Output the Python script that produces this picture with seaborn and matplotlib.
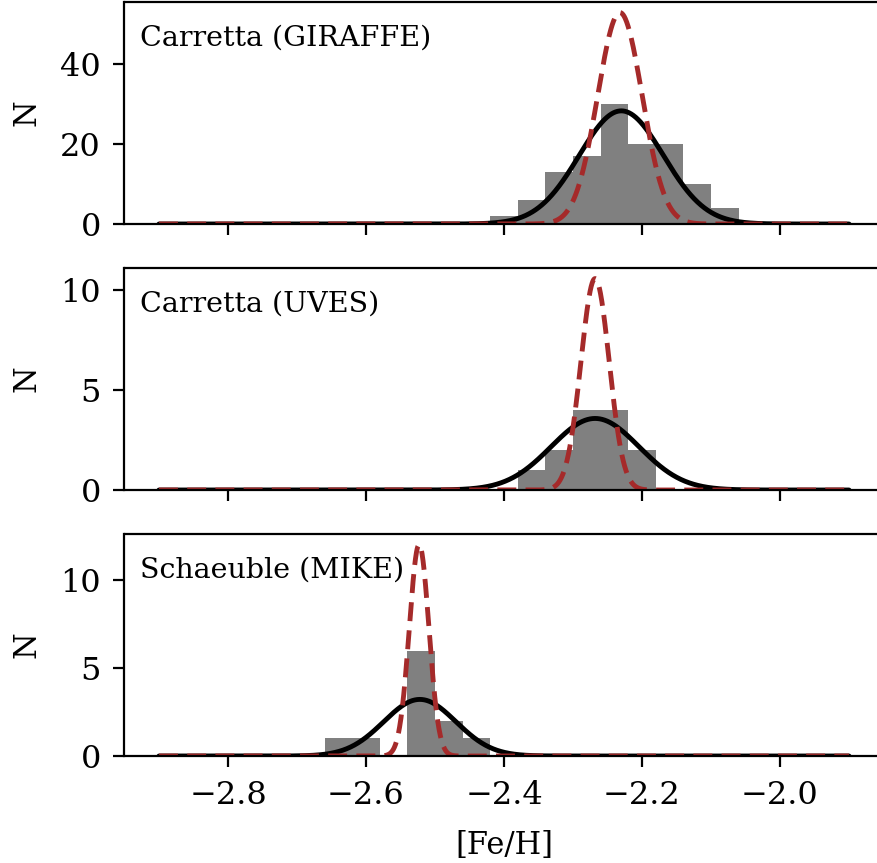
import numpy as np
import pandas as pd
import matplotlib
matplotlib.use("Agg")
import matplotlib.pyplot as plt
import seaborn as sns

# ---- data ----
bin_edges = [-2.42, -2.38, -2.34, -2.30, -2.26, -2.22, -2.18, -2.14, -2.10, -2.06]

giraffe_bins = [-2.40, -2.36, -2.32, -2.28, -2.24, -2.20, -2.16, -2.12, -2.08]
giraffe_counts = [2, 6, 13, 17, 30, 20, 20, 10, 4]

uves_bins = [-2.36, -2.32, -2.28, -2.24, -2.20]
uves_counts = [1, 2, 4, 4, 2]

mike_bin_edges = [-2.66, -2.62, -2.58, -2.54, -2.50, -2.46, -2.42]
mike_bins = [-2.64, -2.60, -2.52, -2.48, -2.44]
mike_counts = [1, 1, 6, 2, 1]

labels = ["Carretta (GIRAFFE)", "Carretta (UVES)", "Schaeuble (MIKE)"]

# Gaussian curve parameters (mean, sigma, peak height)
solid_mean = [-2.230, -2.268, -2.522]
solid_sigma = [0.061, 0.0636, 0.0523]
solid_peak = [28.2, 3.58, 3.22]

dash_mean = [-2.232, -2.268, -2.523]
dash_sigma = [0.0323, 0.0205, 0.0142]
dash_peak = [52.7, 10.58, 12.03]

yticks = [[0, 20, 40], [0, 5, 10], [0, 5, 10]]
xticks = [-2.8, -2.6, -2.4, -2.2, -2.0]
x_min, x_max = -2.9, -1.9

# ---- style ----
sns.set_style("ticks")
plt.rcParams["font.family"] = ["DejaVu Serif"]
plt.rcParams["mathtext.fontset"] = "dejavuserif"
plt.rcParams["text.color"] = "black"
plt.rcParams["axes.labelcolor"] = "black"
plt.rcParams["xtick.color"] = "black"
plt.rcParams["ytick.color"] = "black"
plt.rcParams["axes.edgecolor"] = "black"

W, H = 878, 863
fig = plt.figure(figsize=(W / 100, H / 100), dpi=100)

left_px, width_px = 124.5, 759
tops = [2, 268, 534]
ax_h = 222
axes = []
for t in tops:
    ax = fig.add_axes([left_px / W, 1 - (t + ax_h) / H, width_px / W, ax_h / H])
    axes.append(ax)

hist_sets = [
    (giraffe_bins, giraffe_counts, bin_edges),
    (uves_bins, uves_counts, bin_edges),
    (mike_bins, mike_counts, mike_bin_edges),
]

xgrid = np.linspace(x_min, x_max, 2000)

for i, ax in enumerate(axes):
    centers, counts, edges = hist_sets[i]
    df = pd.DataFrame({"feh": centers, "n": counts})
    sns.histplot(data=df, x="feh", weights="n", bins=edges, ax=ax,
                 color="#808080", alpha=1.0, linewidth=0, edgecolor="none")
    solid = solid_peak[i] * np.exp(-0.5 * ((xgrid - solid_mean[i]) / solid_sigma[i]) ** 2)
    dash = dash_peak[i] * np.exp(-0.5 * ((xgrid - dash_mean[i]) / dash_sigma[i]) ** 2)
    sns.lineplot(x=xgrid, y=solid, ax=ax, color="black", linewidth=3.5,
                 estimator=None, sort=False)
    sns.lineplot(x=xgrid, y=dash, ax=ax, color="#a52a2a", linewidth=3.5,
                 linestyle=(0, (3.9, 1.9)), estimator=None, sort=False)

    ax.set_xlim(-2.95, -1.85)
    ax.set_ylim(0, dash_peak[i] * 1.05)
    ax.set_yticks(yticks[i])
    ax.set_xticks(xticks)
    ax.set_ylabel("N", fontsize=22)
    ax.yaxis.set_label_coords(-0.108, 0.5)
    ax.tick_params(axis="both", labelsize=23, length=8, width=1.6,
                   direction="out", pad=9)
    for s in ax.spines.values():
        s.set_linewidth(1.6)
    ax.text(0.021, 0.90, labels[i], transform=ax.transAxes, fontsize=20.5,
            ha="left", va="top")
    if i < 2:
        ax.tick_params(axis="x", labelbottom=False)
        ax.set_xlabel("")
    else:
        ax.set_xlabel("[Fe/H]", fontsize=22, labelpad=14)

fig.savefig("out.png", dpi=100)
